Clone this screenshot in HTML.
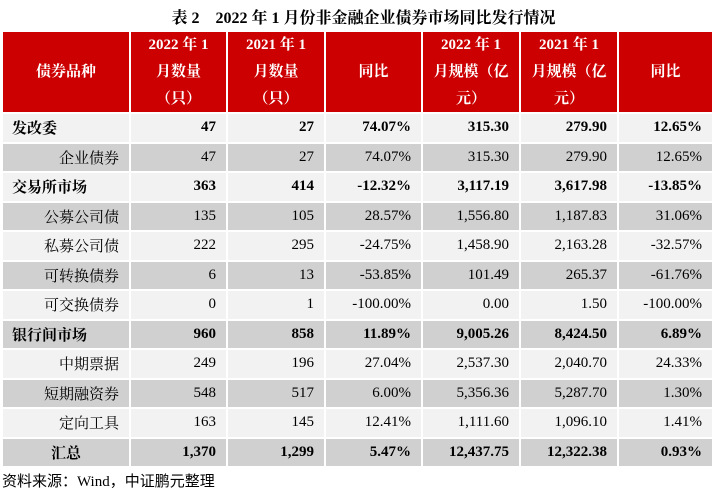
<!DOCTYPE html>
<html><head><meta charset="utf-8"><style>
body{margin:0;width:717px;height:492px;background:#fff;position:relative;overflow:hidden;font-family:"Liberation Serif","Noto Serif CJK SC",serif;}
.t{position:absolute;top:5px;left:0;width:717px;text-align:center;font-weight:bold;font-size:16px;padding-left:10px;box-sizing:border-box}
.c{position:absolute;box-sizing:border-box;font-size:15px;display:flex;align-items:center;white-space:nowrap}
.h{background:#cc0000;color:#fff;font-weight:bold;justify-content:center;text-align:center;line-height:27px;font-size:15px}
.r{justify-content:flex-end;padding-right:10px}
.b{font-weight:bold}
.foot{position:absolute;left:2px;top:470px;font-size:15px;font-family:"Liberation Serif","Noto Sans CJK SC",sans-serif}
</style></head><body>
<div class="t">表 2&nbsp;&nbsp;&nbsp;&nbsp;2022 年 1 月份非金融企业债券市场同比发行情况</div>
<div id="tb"></div>
<div class="foot">资料来源：Wind，中证鹏元整理</div>
<script>
const xs=[3,131,228,326,423,521,619,714];
const hd=["债券品种","2022 年 1<br>月数量<br>（只）","2021 年 1<br>月数量<br>（只）","同比","2022 年 1<br>月规模（亿<br>元）","2021 年 1<br>月规模（亿<br>元）","同比"];
const rows=[
[1,"发改委","47","27","74.07%","315.30","279.90","12.65%"],
[0,"企业债券","47","27","74.07%","315.30","279.90","12.65%"],
[1,"交易所市场","363","414","-12.32%","3,117.19","3,617.98","-13.85%"],
[0,"公募公司债","135","105","28.57%","1,556.80","1,187.83","31.06%"],
[0,"私募公司债","222","295","-24.75%","1,458.90","2,163.28","-32.57%"],
[0,"可转换债券","6","13","-53.85%","101.49","265.37","-61.76%"],
[0,"可交换债券","0","1","-100.00%","0.00","1.50","-100.00%"],
[1,"银行间市场","960","858","11.89%","9,005.26","8,424.50","6.89%"],
[0,"中期票据","249","196","27.04%","2,537.30","2,040.70","24.33%"],
[0,"短期融资券","548","517","6.00%","5,356.36","5,287.70","1.30%"],
[0,"定向工具","163","145","12.41%","1,111.60","1,096.10","1.41%"],
[2,"汇总","1,370","1,299","5.47%","12,437.75","12,322.38","0.93%"]];
let h="";
for(let i=0;i<7;i++)h+=`<div class="c h" style="left:${xs[i]}px;top:32px;width:${xs[i+1]-xs[i]-2}px;height:80px">${hd[i]}</div>`;
rows.forEach((r,j)=>{const top=114+j*29.5;const bg=j%2?"#d0d0d0":"#f2f2f2";
for(let i=0;i<7;i++){let st=`left:${xs[i]}px;top:${top}px;width:${xs[i+1]-xs[i]-2}px;height:27.5px;background:${bg};`;
let cls="c"+(r[0]?" b":"");
if(i==0){if(r[0]==1){st+="padding-left:9px;";}else if(r[0]==2){st+="justify-content:center;";}else{cls+=" r";}}
else cls+=" r";
h+=`<div class="${cls}" style="${st}">${r[i+1]}</div>`;}});
document.getElementById("tb").innerHTML=h;
</script>
</body></html>
